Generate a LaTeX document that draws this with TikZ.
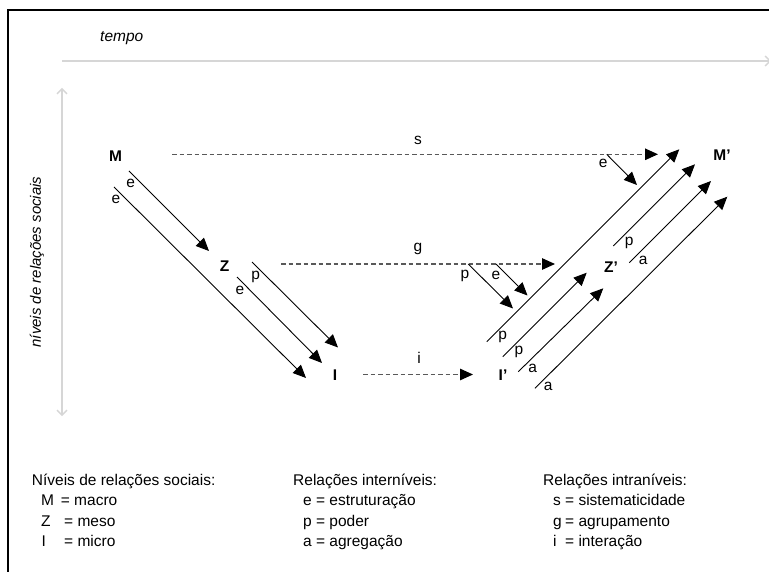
\documentclass[tikz,border=0pt]{standalone}
\usepackage{fontspec}
\setmainfont{Liberation Sans}
\usetikzlibrary{arrows.meta}
\begin{document}
\begin{tikzpicture}[x=1pt,y=-1pt,
  txt/.style={inner sep=0pt, font=\fontsize{15.5}{18}\selectfont},
  lvl/.style={inner sep=0pt, font=\fontsize{15.5}{18}\selectfont\bfseries},
  rel/.style={draw=black, line width=0.9pt, -{Triangle[length=13pt,width=11.5pt]}},
  intra/.style={draw=black!65, line width=1.2pt, dash pattern=on 4.5pt off 3pt, -{Triangle[length=13pt,width=11.5pt,color=black]}},
  axis/.style={draw=black!16, line width=2pt},
  axone/.style={-{Straight Barb[length=5pt,width=10pt,line width=1.3pt]}},
  axtwo/.style={{Straight Barb[length=5pt,width=10pt,line width=1.3pt]}-{Straight Barb[length=5pt,width=10pt,line width=1.3pt]}},
  leg/.style={txt, anchor=base west}]
\useasboundingbox (0,0) rectangle (769,572);
\fill[white] (0,0) rectangle (769,572);
% frame
\coordinate (fTL) at (8,10);
\coordinate (fTR) at (772,10);
\coordinate (fBL) at (8,575);
\draw[line width=2pt, line cap=rect] (fTR) -- (fTL) -- (fBL);
% axes
\coordinate (hA) at (62,61);
\coordinate (hB) at (771,61);
\draw[axis, axone] (hA) -- (hB);
\coordinate (vA) at (62,416);
\coordinate (vB) at (62,88);
\draw[axis, axtwo] (vA) -- (vB);
\node[txt, font=\fontsize{15.5}{18}\selectfont\itshape, anchor=base west] (tempo) at (100,41.7) {tempo};
\node[txt, font=\fontsize{15}{18}\selectfont\itshape, rotate=90] (niveis) at (37,262) {níveis de relações sociais};
% level nodes
\node[lvl] (M) at (115.5,156.5) {M};
\node[lvl] (Z) at (224.5,266) {Z};
\node[lvl] (I) at (335,375.5) {I};
\node[lvl] (Ip) at (503,375) {I’};
\node[lvl] (Zp) at (611,267) {Z’};
\node[lvl] (Mp) at (722,155.5) {M’};
% intra-level dashed arrows
\coordinate (sA) at (172,154.3);
\coordinate (sB) at (658,154.3);
\coordinate (gA) at (281,264);
\coordinate (gB) at (555,264);
\coordinate (iA) at (363,374.5);
\coordinate (iB) at (473,374.5);
\draw[intra] (sA) -- (sB);
\draw[intra] (gA) -- (gB);
\draw[intra] (iA) -- (iB);
\node[txt] (ls) at (418,140) {s};
\node[txt] (lg) at (418,248.5) {g};
\node[txt] (li) at (419,358) {i};
% left side arrows
\coordinate (e1A) at (129,171);
\coordinate (e1B) at (209,251);
\coordinate (e2A) at (114,187);
\coordinate (e2B) at (306,378);
\coordinate (e3A) at (237,277);
\coordinate (e3B) at (322,363);
\coordinate (p1A) at (252,262);
\coordinate (p1B) at (338,347.5);
\draw[rel] (e1A) -- (e1B);
\draw[rel] (e2A) -- (e2B);
\draw[rel] (e3A) -- (e3B);
\draw[rel] (p1A) -- (p1B);
\node[txt] (le1) at (130.7,183.3) {e};
\node[txt] (le2) at (116,199) {e};
\node[txt] (le3) at (240,290) {e};
\node[txt] (lp1) at (255.7,276.7) {p};
% right side: arrows from dashed lines
\coordinate (seA) at (606.7,154.3);
\coordinate (seB) at (637,185);
\coordinate (gpA) at (468.3,264);
\coordinate (gpB) at (513,308.5);
\coordinate (geA) at (496,264);
\coordinate (geB) at (527.5,295.5);
\draw[rel] (seA) -- (seB);
\draw[rel] (gpA) -- (gpB);
\draw[rel] (geA) -- (geB);
\node[txt] (lse) at (603.3,163.3) {e};
\node[txt] (lgp) at (465,276) {p};
\node[txt] (lge) at (496,275) {e};
% right side upward arrows
\coordinate (u1A) at (486.7,341.7);
\coordinate (u1B) at (679.3,149.3);
\coordinate (u2A) at (502.7,356.7);
\coordinate (u2B) at (586.7,272.7);
\coordinate (u3A) at (518.3,371.7);
\coordinate (u3B) at (603.3,288.3);
\coordinate (u4A) at (535,388.3);
\coordinate (u4B) at (727.3,196.7);
\coordinate (u5A) at (613.3,246);
\coordinate (u5B) at (695,164.3);
\coordinate (u6A) at (629.3,262.7);
\coordinate (u6B) at (711,181);
\draw[rel] (u1A) -- (u1B);
\draw[rel] (u2A) -- (u2B);
\draw[rel] (u3A) -- (u3B);
\draw[rel] (u4A) -- (u4B);
\draw[rel] (u5A) -- (u5B);
\draw[rel] (u6A) -- (u6B);
\node[txt] (lu1) at (502.7,336.7) {p};
\node[txt] (lu2) at (519,351.7) {p};
\node[txt] (lu3) at (532.7,368.3) {a};
\node[txt] (lu4) at (548.3,386.7) {a};
\node[txt] (lu5) at (629.3,242.7) {p};
\node[txt] (lu6) at (643.3,260) {a};
% legend
\node[leg] (h1) at (31.7,485.5) {Níveis de relações sociais:};
\node[leg] (k1) at (41,505.5) {M};
\node[leg] (v1) at (60.7,505.5) {= macro};
\node[leg] (k2) at (41,526) {Z};
\node[leg] (v2) at (64,526) {= meso};
\node[leg] (k3) at (41.5,546.5) {I};
\node[leg] (v3) at (64,546.5) {= micro};
\node[leg] (h2) at (293,485.5) {Relações interníveis:};
\node[leg] (w1) at (303,505.5) {e = estruturação};
\node[leg] (w2) at (303,526) {p = poder};
\node[leg] (w3) at (303,546.5) {a = agregação};
\node[leg] (h3) at (543,485.5) {Relações intraníveis:};
\node[leg] (x1) at (553,505.5) {s};
\node[leg] (y1) at (565,505.5) {= sistematicidade};
\node[leg] (x2) at (553,526) {g};
\node[leg] (y2) at (565,526) {= agrupamento};
\node[leg] (x3) at (553,546.5) {i};
\node[leg] (y3) at (565,546.5) {= interação};
\end{tikzpicture}
\end{document}
